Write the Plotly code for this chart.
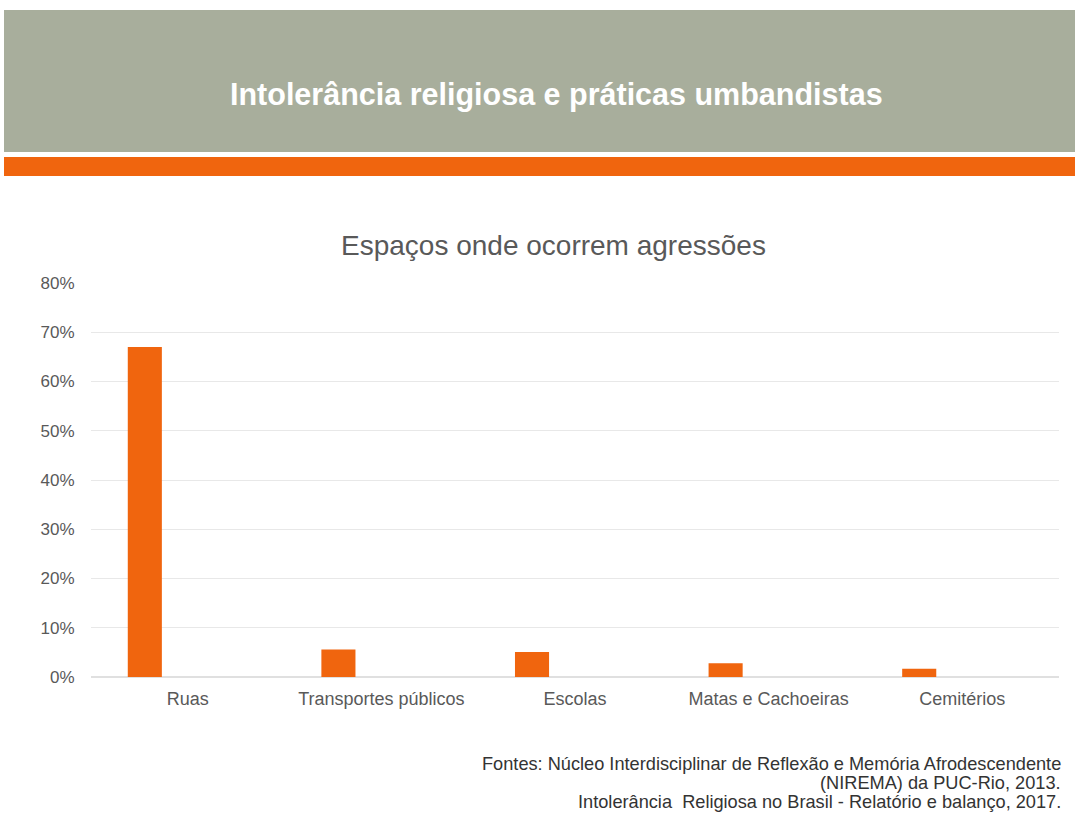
import plotly.graph_objects as go

categories = ["Ruas", "Transportes públicos", "Escolas", "Matas e Cachoeiras", "Cemitérios"]
values = [0.67, 0.056, 0.051, 0.028, 0.017]
y_tickvals = [0, 0.1, 0.2, 0.3, 0.4, 0.5, 0.6, 0.7, 0.8]
y_ticktext = ["0%", "10%", "20%", "30%", "40%", "50%", "60%", "70%", "80%"]
source_lines = [
    "Fontes: Núcleo Interdisciplinar de Reflexão e Memória Afrodescendente",
    "(NIREMA) da PUC-Rio, 2013.",
    "Intolerância  Religiosa no Brasil - Relatório e balanço, 2017.",
]

W, H = 1075, 821
L, R, T, B = 91, 1059, 283, 677  # plot area in pixels


def px(x):
    return (x - L) / (R - L)


def py(y):
    return (B - y) / (B - T)


fig = go.Figure()
fig.add_trace(go.Bar(
    x=categories, y=values,
    marker=dict(color="#f0650e", line=dict(width=0)),
    width=0.176, offset=-0.31,
    hoverinfo="x+y",
))

shapes = [
    dict(type="rect", xref="paper", yref="paper", x0=px(4), x1=px(1075), y0=py(152), y1=py(10),
         fillcolor="#a8ae9c", line=dict(width=0), layer="below"),
    dict(type="rect", xref="paper", yref="paper", x0=px(4), x1=px(1075), y0=py(176), y1=py(157),
         fillcolor="#f0650e", line=dict(width=0), layer="below"),
]

annotations = [
    dict(text="<b>Intolerância religiosa e práticas umbandistas</b>", xref="paper", yref="paper",
         x=px(556), y=py(95), xanchor="center", yanchor="middle", showarrow=False,
         font=dict(family="Arial", size=30.5, color="#ffffff")),
    dict(text="Espaços onde ocorrem agressões", xref="paper", yref="paper",
         x=px(553), y=py(245), xanchor="center", yanchor="middle", showarrow=False,
         font=dict(family="Arial", size=28, color="#595959")),
]
for line, ypix in zip(source_lines, [764, 783, 802]):
    annotations.append(dict(
        text=line, xref="paper", yref="paper", x=px(1063), y=py(ypix),
        xanchor="right", yanchor="middle", showarrow=False,
        font=dict(family="Arial", size=18.2, color="#333333")))

fig.update_layout(
    width=W, height=H,
    margin=dict(l=L, r=W - R, t=T, b=H - B, pad=0),
    paper_bgcolor="#ffffff", plot_bgcolor="#ffffff",
    showlegend=False,
    shapes=shapes, annotations=annotations,
    xaxis=dict(showgrid=False, showline=False, zeroline=False, ticks="outside", ticklen=5,
               tickcolor="rgba(0,0,0,0)",
               tickfont=dict(family="Arial", size=18, color="#595959")),
    yaxis=dict(range=[0, 0.8], tickvals=y_tickvals, ticktext=y_ticktext,
               showgrid=True, gridcolor="#e8e8e8", gridwidth=1, zeroline=True,
               zerolinecolor="#e0e0e0", showline=False, ticks="outside", ticklen=12,
               tickcolor="rgba(0,0,0,0)",
               tickfont=dict(family="Arial", size=17, color="#595959")),
)

fig.write_html("out.html")
